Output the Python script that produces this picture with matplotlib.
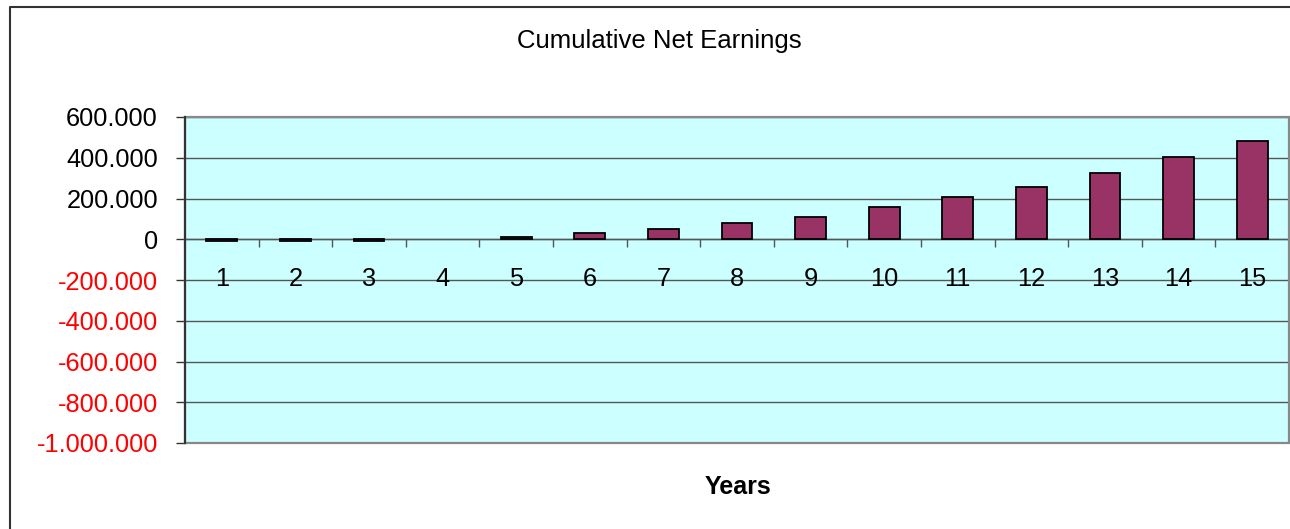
import matplotlib
matplotlib.use("Agg")
import matplotlib.pyplot as plt
from matplotlib.patches import Rectangle
from matplotlib.lines import Line2D
from matplotlib.ticker import FixedLocator, FuncFormatter

plt.rcParams["font.family"] = ["Liberation Sans", "DejaVu Sans"]

# Cumulative net earnings per year
years = list(range(1, 16))
earnings = [-10000, -10000, -9000, 0, 9000, 32000, 49000, 80000,
            109000, 160000, 206000, 255000, 325000, 402000, 482000]
y_ticks = [-1000000, -800000, -600000, -400000, -200000, 0, 200000, 400000, 600000]

title = "Cumulative Net Earnings"
x_title = "Years"

W, H = 1290, 529
fig = plt.figure(figsize=(W / 100, H / 100), dpi=100)
fig.patch.set_facecolor("white")

# chart frame (left and top edges)
fx, fy = 10 / W, 1 - 6.5 / H
fig.lines.append(Line2D([fx, fx, 1.05], [-0.05, fy, fy], transform=fig.transFigure,
                        color="#333333", lw=1.5, zorder=0))

left, right, top, bottom = 185, 1289, 117, 443
ax = fig.add_axes([left / W, 1 - bottom / H, (right - left) / W, (bottom - top) / H])
ax.set_facecolor("#CCFFFF")

ax.set_xlim(0.5, 15.5)
ax.set_ylim(y_ticks[0], y_ticks[-1])

# bars; a zero value gets no outline
lws = [0 if v == 0 else 1.3 for v in earnings]
ax.bar(years, earnings, width=0.42, color="#993366", edgecolor="black",
       linewidth=lws, zorder=3)

# horizontal gridlines
for v in y_ticks:
    ax.axhline(v, color="#555555", lw=1.0, zorder=1)

# spines: left axis dark, category axis at zero, frame grey
for s in ("top", "right"):
    ax.spines[s].set_visible(False)
ax.spines["left"].set_color("#333333")
ax.spines["left"].set_linewidth(1.5)
ax.spines["bottom"].set_position(("data", 0))
ax.spines["bottom"].set_color("#555555")
ax.spines["bottom"].set_linewidth(1.0)
ax.add_patch(Rectangle((0, 0), 1, 1, transform=ax.transAxes, fill=False,
                       edgecolor="#888888", lw=1.6, zorder=4, clip_on=False))
ax.plot([0, 0], [0, 1], transform=ax.transAxes, color="#333333", lw=1.5,
        zorder=5, clip_on=False)

# y axis
ax.yaxis.set_major_locator(FixedLocator(y_ticks))
ax.yaxis.set_major_formatter(FuncFormatter(lambda v, p: f"{int(v):,}".replace(",", ".")))
ax.tick_params(axis="y", direction="out", length=6.5, width=1.0, color="#333333",
               pad=13, labelsize=18.3)
for lbl, v in zip(ax.get_yticklabels(), y_ticks):
    lbl.set_color("red" if v < 0 else "black")

# x axis: labels at category centres, ticks between categories
ax.xaxis.set_major_locator(FixedLocator(years))
ax.set_xticklabels([str(y) for y in years])
ax.xaxis.set_minor_locator(FixedLocator([y + 0.5 for y in years[:-1]]))
ax.tick_params(axis="x", which="major", length=0, pad=20, labelsize=18.3)
ax.tick_params(axis="x", which="minor", direction="out", length=6, width=1.0,
               color="#555555")

fig.text(659 / W, 1 - 41 / H, title, ha="center", va="center", fontsize=18.5)
fig.text(738 / W, 1 - 487 / H, x_title, ha="center", va="center",
         fontsize=18, fontweight="bold")

fig.savefig("out.png", dpi=100)
